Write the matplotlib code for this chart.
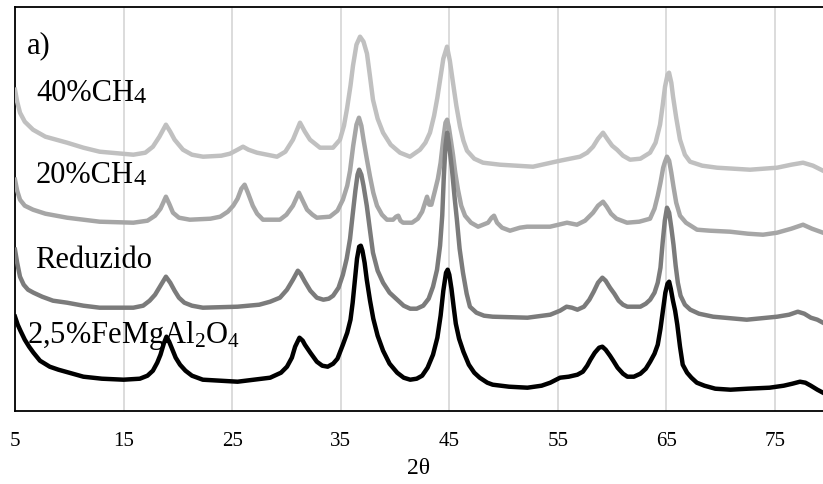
import matplotlib
matplotlib.use("Agg")
import matplotlib.pyplot as plt

plt.rcParams['font.family'] = ['Liberation Serif', 'DejaVu Serif']
plt.rcParams['mathtext.fontset'] = 'custom'
plt.rcParams['mathtext.rm'] = 'Liberation Serif'
plt.rcParams['mathtext.it'] = 'Liberation Serif'

# 2,5%FeMgAl2O4 (black)
tth_ref = [5.0, 5.25, 5.5, 5.9, 6.3, 6.7, 7.3, 8.2, 9.0, 10.0, 11.3, 13.0, 15.0, 16.5,
           17.2, 17.7, 18.1, 18.4, 18.7, 18.95, 19.2, 19.5, 19.8, 20.2, 20.7, 21.3, 22.3,
           25.5, 28.5, 29.5, 30.05, 30.5, 30.8, 31.2, 31.5, 31.7, 32.2, 32.8, 33.3, 33.8,
           34.3, 34.7, 35.2, 35.6, 35.9, 36.1, 36.3, 36.5, 36.7, 36.85, 37.0, 37.2, 37.4,
           37.7, 38.0, 38.4, 38.9, 39.5, 40.2, 40.8, 41.4, 42.0, 42.5, 43.0, 43.5, 43.9,
           44.2, 44.45, 44.7, 44.85, 45.0, 45.2, 45.4, 45.6, 45.9, 46.3, 46.8, 47.3, 47.8,
           48.5, 49.0, 50.5, 52.2, 53.5, 54.3, 55.2, 56.0, 56.8, 57.3, 57.7, 58.0, 58.4,
           58.8, 59.1, 59.4, 59.8, 60.1, 60.5, 61.0, 61.4, 62.0, 62.6, 63.1, 63.5, 63.9,
           64.2, 64.45, 64.7, 64.9, 65.1, 65.25, 65.4, 65.6, 65.8, 66.0, 66.25, 66.5, 66.9,
           67.3, 67.8, 68.5, 69.5, 70.9, 72.5, 74.5, 75.8, 76.6, 77.3, 77.8, 78.3, 78.9,
           79.42]
int_ref = [94, 86, 80, 71, 64, 58, 50, 44, 41, 38, 34, 32, 31, 32,
           35, 40, 48, 56, 67, 74, 69, 61, 53, 46, 40, 35, 31,
           29, 33, 38, 44, 53, 64, 73, 70, 66, 58, 49, 45, 44,
           47, 52, 66, 78, 91, 108, 130, 152, 164, 165, 160, 148, 131,
           110, 92, 75, 60, 47, 38, 33, 31, 32, 35, 43, 56, 73,
           95, 120, 138, 141, 136, 122, 104, 87, 72, 59, 46, 38, 33,
           28, 26, 24, 23, 25, 28, 33, 34, 36, 39, 45, 51, 58,
           63, 64, 61, 55, 50, 43, 37, 34, 34, 37, 42, 49, 57,
           66, 82, 102, 118, 127, 129, 122, 110, 100, 86, 64, 46, 38,
           33, 28, 25, 22, 21, 22, 23, 25, 27, 29, 28, 25, 21,
           18]

# Reduzido (dark gray)
tth_red = [5.0, 5.2, 5.46, 5.8, 6.2, 6.7, 7.5, 8.5, 9.8, 11.3, 12.8, 15.9, 16.8, 17.4,
           17.9, 18.4, 18.9, 19.3, 19.7, 20.1, 20.6, 21.3, 22.3, 25.5, 27.5, 28.5, 29.4,
           30.05, 30.6, 31.05, 31.3, 31.7, 32.2, 32.8, 33.4, 33.9, 34.3, 34.8, 35.2, 35.55,
           35.86, 36.1, 36.35, 36.55, 36.7, 36.9, 37.1, 37.4, 37.7, 37.97, 38.4, 38.9,
           39.5, 40.2, 40.8, 41.4, 42.0, 42.6, 43.1, 43.5, 43.87, 44.15, 44.35, 44.5,
           44.65, 44.8, 44.95, 45.1, 45.25, 45.5, 45.7, 45.95, 46.26, 46.6, 46.9, 47.5,
           48.2, 49.0, 52.2, 54.3, 55.2, 55.8, 56.3, 56.8, 57.4, 57.9, 58.3, 58.7, 59.1,
           59.4, 59.8, 60.2, 60.6, 61.0, 61.4, 62.6, 63.1, 63.5, 63.9, 64.2, 64.45, 64.65,
           64.85, 65.05, 65.25, 65.45, 65.65, 65.85, 66.05, 66.3, 66.7, 67.2, 68.0, 69.3,
           72.4, 75.2, 76.3, 77.1, 77.7, 78.3, 78.9, 79.42]
int_red = [161, 148, 134, 126, 121, 118, 114, 110, 108, 105, 103, 103, 105, 110,
           116, 125, 134, 128, 120, 113, 108, 105, 103, 104, 106, 109, 113,
           121, 131, 140, 137, 129, 120, 113, 111, 112, 115, 123, 136, 152,
           172, 196, 220, 236, 241, 236, 225, 205, 180, 158, 140, 128,
           118, 111, 105, 102, 102, 105, 112, 124, 141, 165, 195, 235,
           265, 278, 268, 255, 241, 212, 191, 162, 138, 117, 104, 98,
           95, 94, 93, 96, 100, 104, 103, 101, 104, 111, 119, 128, 133,
           130, 123, 117, 110, 106, 104, 104, 107, 111, 118, 128, 143, 168,
           190, 203, 198, 183, 166, 145, 128, 115, 106, 101, 97, 94,
           91, 94, 96, 99, 97, 93, 91, 88]

# 20%CH4
tth_20 = [5.0, 5.2, 5.46, 5.9, 6.66, 7.8, 9.8, 12.8, 15.9, 17.2, 17.9, 18.4, 18.9, 19.2,
          19.55, 20.1, 21.1, 23.0, 23.9, 24.6, 25.1, 25.5, 25.85, 26.15, 26.45, 26.9,
          27.3, 27.84, 29.4, 30.0, 30.6, 31.15, 31.5, 31.9, 32.4, 32.8, 34.0, 34.7, 35.2,
          35.6, 35.86, 36.15, 36.45, 36.68, 36.9, 37.1, 37.4, 37.7, 38.0, 38.34, 38.8,
          39.26, 39.82, 40.1, 40.3, 40.5, 40.74, 41.57, 42.1, 42.5, 42.8, 42.95, 43.15,
          43.35, 43.68, 43.95, 44.2, 44.45, 44.65, 44.8, 44.95, 45.15, 45.34, 45.55, 45.8,
          46.1, 46.45, 47.0, 47.65, 48.57, 48.9, 49.12, 49.4, 49.86, 50.59, 51.5, 52.16,
          54.28, 55.84, 56.76, 57.5, 58.24, 58.7, 59.16, 59.5, 59.9, 60.4, 61.37, 62.5,
          63.49, 63.9, 64.2, 64.45, 64.7, 64.87, 65.05, 65.25, 65.45, 65.65, 65.9, 66.25,
          66.8, 67.82, 69.0, 70.86, 72.5, 73.9, 75.19, 76.5, 77.58, 78.4, 79.42]
int_20 = [231, 220, 211, 205, 201, 197, 193, 189, 188, 190, 195, 202, 214, 207,
          198, 193, 191, 192, 194, 199, 205, 212, 222, 226, 218, 205,
          197, 191, 191, 196, 205, 218, 210, 201, 196, 193, 194, 200, 211,
          225, 240, 265, 286, 293, 285, 271, 252, 234, 218, 205, 196,
          191, 191, 194, 195, 190, 188, 188, 192, 199, 209, 214, 206,
          206, 220, 232, 248, 272, 288, 291, 284, 270, 256, 238, 221,
          205, 195, 188, 184, 188, 193, 195, 188, 183, 180, 183, 184,
          184, 188, 186, 190, 198, 205, 209, 204, 197, 192, 188, 189,
          192, 202, 215, 228, 243, 249, 254, 250, 238, 224, 208, 195,
          188, 181, 180, 179, 177, 176, 178, 182, 186, 182, 178]

# 40%CH4
tth_40 = [5.0, 5.2, 5.46, 5.9, 6.66, 7.8, 9.8, 11.3, 12.8, 15.9, 17.0, 17.7, 18.3, 18.9,
          19.3, 19.7, 20.47, 21.3, 22.32, 24.0, 24.8, 25.5, 26.0, 26.5, 27.29, 29.13,
          29.9, 30.6, 31.25, 31.7, 32.17, 33.09, 34.29, 34.93, 35.3, 35.58, 35.9, 36.13,
          36.45, 36.78, 37.1, 37.42, 37.7, 37.97, 38.4, 38.9, 39.6, 40.46, 41.38, 42.3,
          42.8, 43.22, 43.6, 43.9, 44.14, 44.45, 44.79, 45.05, 45.34, 45.65, 45.99, 46.3,
          46.63, 47.3, 48.11, 49.67, 52.71, 55.2, 57.04, 57.7, 58.24, 58.7, 59.16, 59.6,
          60.0, 60.45, 61.0, 61.65, 62.6, 63.49, 64.0, 64.41, 64.65, 64.87, 65.1, 65.24,
          65.45, 65.61, 65.9, 66.25, 66.7, 67.17, 68.3, 69.66, 72.7, 75.19, 76.5, 77.58,
          78.5, 79.42]
int_40 = [321, 309, 298, 289, 281, 274, 268, 263, 259, 256, 258, 264, 274, 286,
          279, 271, 261, 256, 254, 255, 257, 261, 264, 261, 258, 254,
          259, 271, 288, 279, 271, 263, 263, 271, 285, 302, 325, 345,
          366, 374, 369, 357, 334, 311, 292, 278, 266, 258, 254, 261,
          268, 278, 295, 313, 330, 352, 364, 350, 328, 305, 284, 270,
          260, 252, 248, 246, 244, 250, 254, 258, 264, 272, 278, 271,
          265, 261, 255, 251, 252, 258, 268, 286, 305, 324, 336, 338,
          328, 314, 293, 271, 256, 249, 245, 243, 241, 243, 246, 248,
          245, 240]

xticks = [5, 15, 25, 35, 45, 55, 65, 75]

W, H = 823, 484
fig = plt.figure(figsize=(W / 100, H / 100), dpi=100)
ax = fig.add_axes([15 / W, 1 - 410.7 / H, (W - 15) / W, 404 / H])

ax.plot(tth_40, int_40, color='#c0c0c0', lw=3.2, zorder=3)
ax.plot(tth_20, int_20, color='#a6a6a6', lw=3.2, zorder=4)
ax.plot(tth_red, int_red, color='#7b7b7b', lw=3.2, zorder=5)
ax.plot(tth_ref, int_ref, color='black', lw=3.2, zorder=6)

ax.set_xlim(5, 79.42)
ax.set_ylim(0, 404)
ax.set_xticks(xticks)
ax.set_yticks([])
ax.tick_params(axis='x', length=0, pad=15.5, labelsize=15)
ax.grid(axis='x', color='#d9d9d9', lw=1.3, zorder=0)
ax.set_axisbelow(True)
ax.spines['right'].set_visible(False)
for s in ['left', 'top', 'bottom']:
    ax.spines[s].set_linewidth(1.3)
ax.set_xlabel('2θ', fontsize=17, labelpad=5)


def pos(x, y):
    return x / W, 1 - y / H


fs = 22
fig.text(*pos(27, 53), 'a)', fontsize=fs, va='baseline')
for lbl, y in [('40%CH', 101), ('20%CH', 183)]:
    t = fig.text(*pos(36, y), lbl, fontsize=fs, va='baseline')
    ax.annotate('4', xy=(1, 0), xycoords=t, fontsize=17.5, va='bottom', ha='left')
fig.text(*pos(35, 268), 'Reduzido', fontsize=fs, va='baseline')
fig.text(*pos(27, 343), r'2,5%FeMgAl$_\mathregular{2}$O$_\mathregular{4}$',
         fontsize=fs, va='baseline')

fig.savefig('out.png', dpi=100)
